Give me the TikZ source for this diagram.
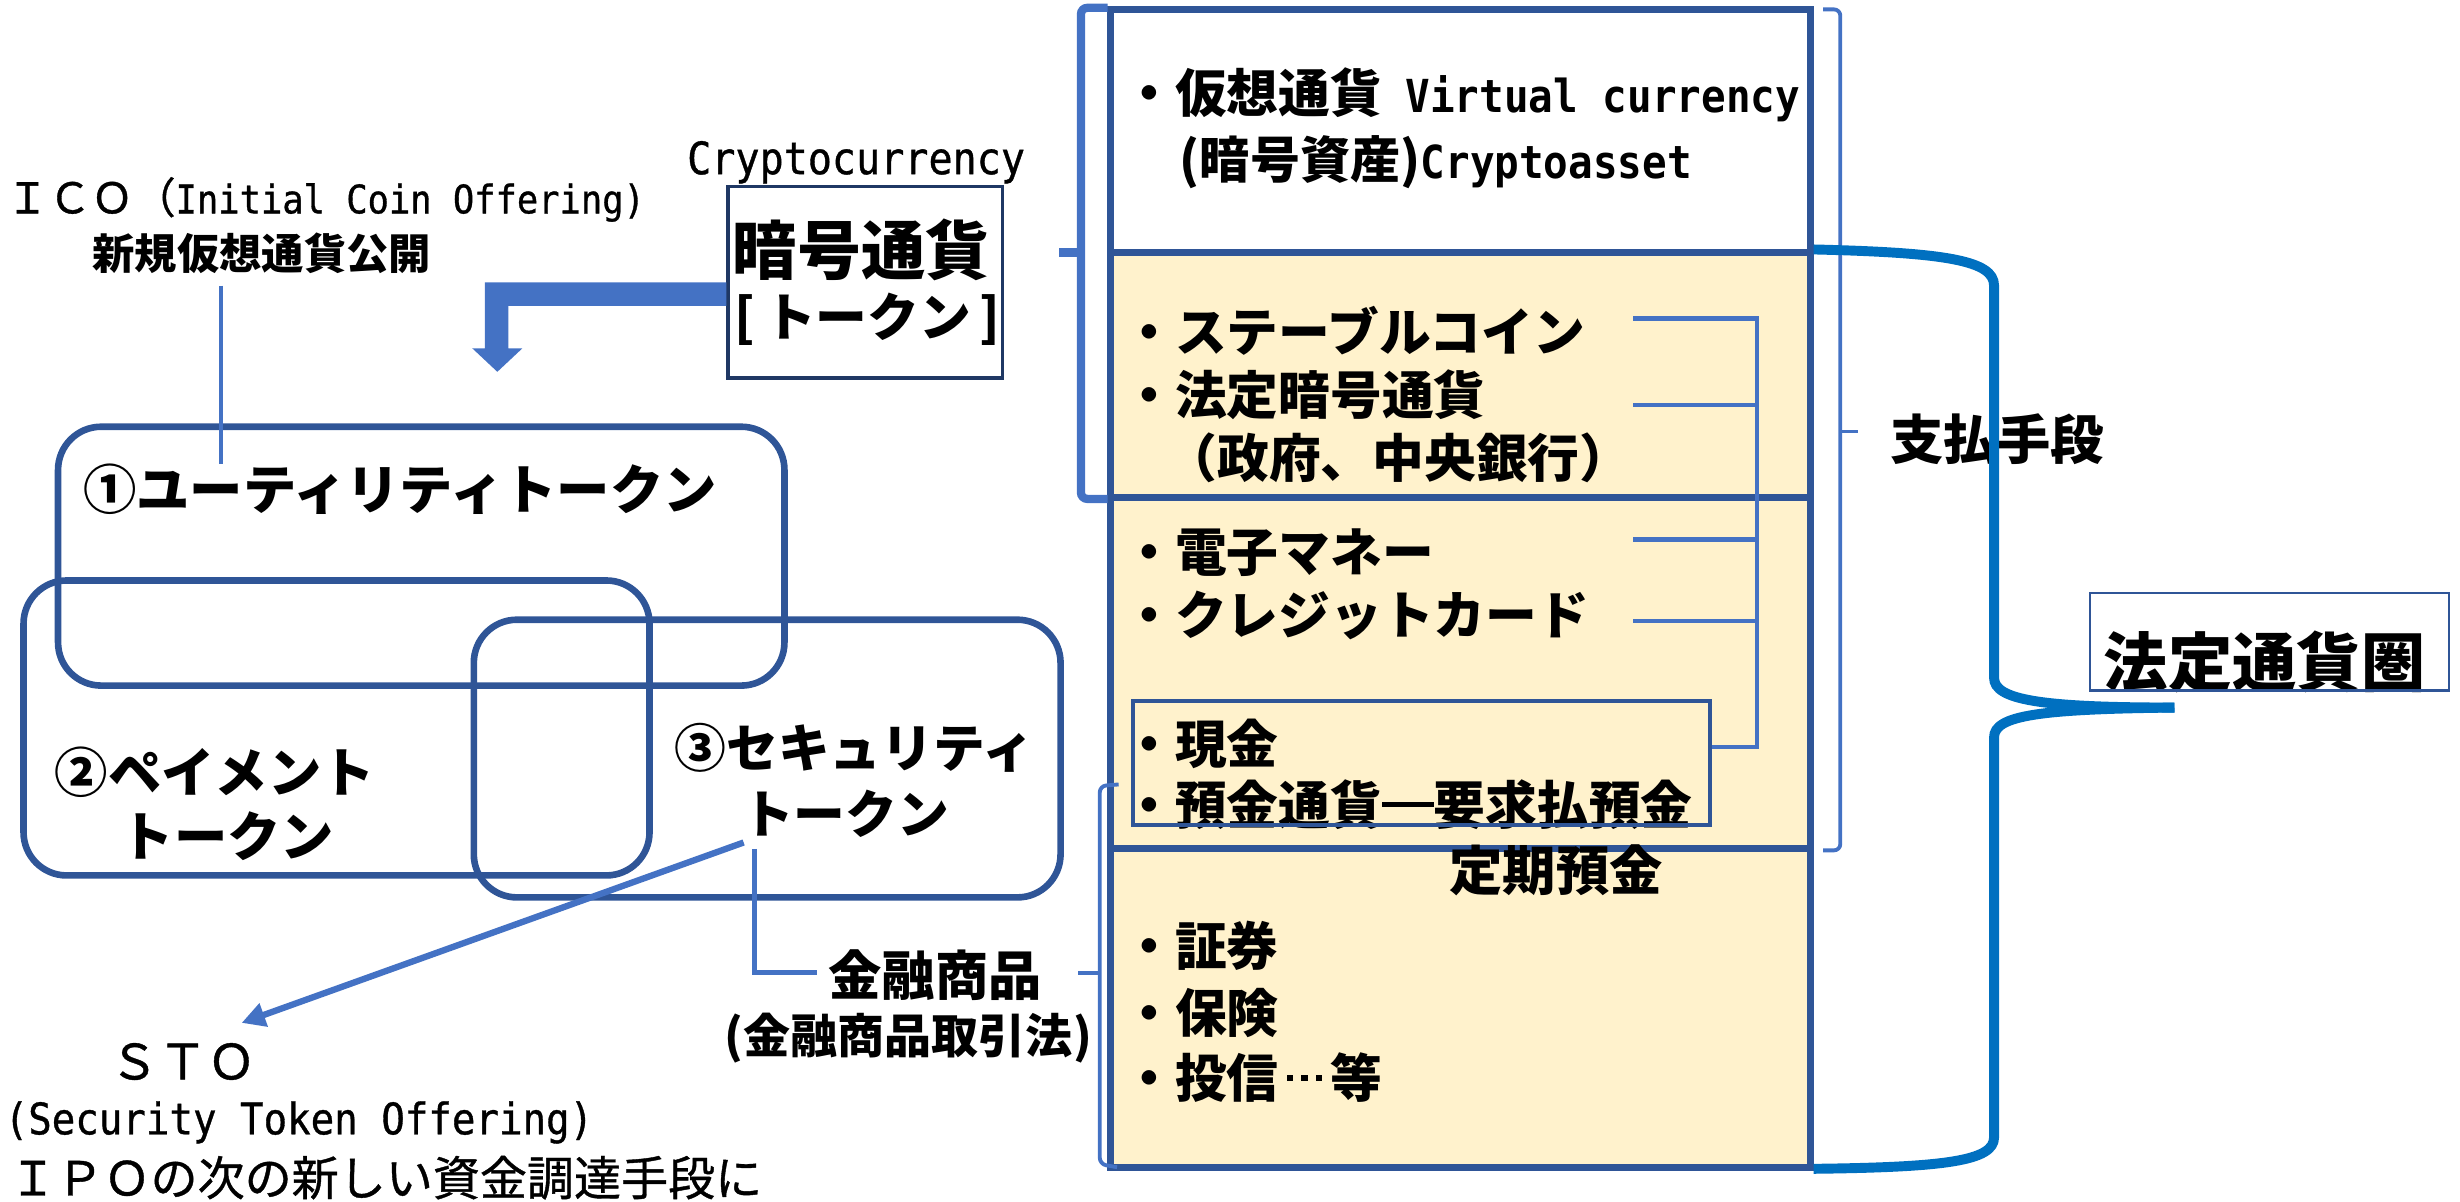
\documentclass[tikz,border=0pt]{standalone}
\usepackage{fontspec}
\setmainfont{Noto Sans CJK JP}
\newfontfamily\jpm{Noto Sans CJK JP}[FakeBold=0.8]
\newfontfamily\latf{DejaVu Sans Mono}[FakeStretch=0.9]
\newfontfamily\latm{DejaVu Sans Mono}[FakeStretch=0.9,FakeBold=0.8]
\usetikzlibrary{arrows.meta,fit}
\definecolor{navy}{HTML}{2F5597}
\definecolor{dnavy}{HTML}{1F3864}
\definecolor{lblue}{HTML}{4472C4}
\definecolor{bblue}{HTML}{0070C0}
\definecolor{cream}{HTML}{FFF2CC}
\newcommand\fsz[1]{\fontsize{\fpeval{#1*0.569}}{\fpeval{#1*0.7}}\selectfont}
\newcommand\jdash{\makebox[1em][c]{\rule[0.33em]{1em}{0.1em}}}
\newcommand\jdots{\makebox[1em][c]{\rule[0.32em]{0.12em}{0.12em}\hspace{0.16em}\rule[0.32em]{0.12em}{0.12em}\hspace{0.16em}\rule[0.32em]{0.12em}{0.12em}}}
\begin{document}
\begin{tikzpicture}[x=0.02cm,y=-0.02cm,
  tx/.style={inner sep=0,outer sep=0,anchor=base west},
  tc/.style={inner sep=0,outer sep=0,anchor=base},
  rbox/.style={draw=navy,line width=2.4pt,rounded corners=0.55cm,inner sep=0},
  colbox/.style={draw=navy,line width=2.4pt,inner sep=0},
  conn/.style={draw=lblue,line width=1.6pt},
  brk/.style={draw=lblue,rounded corners=0.08cm}]
\useasboundingbox (0,0) rectangle (1568,766);

% right column boxes
\node[colbox,fill=white,fit={(708,6)(1154,161)}] (va) {};
\node[colbox,fill=cream,fit={(708,161)(1154,317)}] (st) {};
\node[colbox,fill=cream,fit={(708,317)(1154,541)}] (em) {};
\node[colbox,fill=cream,fit={(708,541)(1154,744)}] (sc) {};

% left rounded boxes
\node[rbox,fit={(37,272)(500,437)}] (util) {};
\node[rbox,fit={(15,370)(414,558)}] (paybox) {};
\node[rbox,fit={(302,395)(676,572)}] (sec) {};

% crypto box
\node[draw=dnavy,line width=1.2pt,inner sep=0,fit={(464,119)(639,241)}] (kbox) {};

% block arrow
\fill[lblue] (kbox.west|-0,180) -- (309,180) -- (309,222) -- (301,222) -- (317,237) -- (333,222) -- (324,222) -- (324,195) -- (kbox.west|-0,195) -- cycle;

% texts left
\node[tx] (cryp) at (438,111) {\latm\fsz{28.4}Cryptocurrency};
\node[tx] (ico) at (4,136) {\jpm\fsz{27}ＩＣＯ（\latm\fsz{25.1}Initial Coin Offering)};
\node[tx] (icoj) at (59,172) {\bfseries\fsz{27}新規仮想通貨公開};
\node[tc] (kt1) at (549,175) {\bfseries\fsz{41}暗号通貨};
\node[tc] (kt2) at (553,214.5) {\bfseries\fsz{33}[\,トークン\,]};
\node[tx] (t1) at (53,325) {\bfseries\fsz{34}①ユーティリティトークン};
\node[tx] (t2a) at (35,505) {\bfseries\fsz{34}②ペイメント};
\node[tx] (t2b) at (77,546) {\bfseries\fsz{34}トークン};
\node[tx] (t3a) at (430,489.5) {\bfseries\fsz{33}③セキュリティ};
\node[tx] (t3b) at (473,531.5) {\bfseries\fsz{33}トークン};
\node[tx] (fin1) at (528,634.5) {\bfseries\fsz{34}金融商品};
\node[tx] (fin2) at (462,671.5) {\bfseries\fsz{30}(金融商品取引法)};
\node[tx] (sto1) at (70,688) {\jpm\fsz{31}ＳＴＯ};
\node[tx] (sto2) at (3,723) {\latm\fsz{27.7}(Security Token Offering)};
\node[tx] (sto3) at (6,762) {\jpm\fsz{30}ＩＰＯの次の新しい資金調達手段に};

% texts right
\node[tx] (r1) at (716,72) {\bfseries\fsz{33}・仮想通貨\hspace{0.3cm}{\latf\bfseries\fsz{29}Virtual currency}};
\node[tx] (r2) at (752,114) {\bfseries\fsz{32}(暗号資産){\latf\bfseries\fsz{29}Cryptoasset}};
\node[tx] (r3) at (716,224) {\bfseries\fsz{33}・ステーブルコイン};
\node[tx] (r4) at (716,264.5) {\bfseries\fsz{33}・法定暗号通貨};
\node[tx] (r5) at (743,304.5) {\bfseries\fsz{33}（政府、中央銀行）};
\node[tx] (r6) at (716,364.5) {\bfseries\fsz{33}・電子マネー};
\node[tx] (r7) at (716,404.5) {\bfseries\fsz{33}・クレジットカード};
\node[tx] (r8) at (716,486.5) {\bfseries\fsz{33}・現金};
\node[tx] (r9) at (716,525.5) {\bfseries\fsz{33}・預金通貨\jdash 要求払預金};
\node[tx] (r10) at (924,567.5) {\bfseries\fsz{34}定期預金};
\node[tx] (r11) at (716,615.5) {\bfseries\fsz{33}・証券};
\node[tx] (r12) at (716,658) {\bfseries\fsz{33}・保険};
\node[tx] (r13) at (716,699.5) {\bfseries\fsz{33}・投信\jdots 等};
\node[tx] (payl) at (1205,293) {\bfseries\fsz{34}支払手段};
\node[tx] (legal) at (1341,437.5) {\bfseries\fsz{41}法定通貨圏};

% inner cash box and legal box (over text)
\node[draw=navy,line width=1.6pt,inner sep=0,fit={(722,447)(1090,526)}] (cash) {};
\node[draw=navy,line width=0.9pt,inner sep=0,fit={(1332,378)(1561,440)}] (lbox) {};

% connectors
\coordinate (j1) at (1120,203);
\coordinate (j5) at (1120,476);
\draw[conn] (1041,203) -- (j1) -- (j5) -- (cash.east|-j5);
\draw[conn] (1041,258) -- (1120,258);
\draw[conn] (1041,344) -- (1120,344);
\draw[conn] (1041,396) -- (1120,396);

% ICO line
\draw[lblue,line width=1.6pt] (141,182) -- (141,296);
% STO arrow
\draw[lblue,line width=2.3pt,-{Triangle[length=0.3cm,width=0.3cm]}] (474,537) -- (154,652);
% financial elbow
\draw[lblue,line width=2pt] (481,541) -- (481,620) -- (521,620);

% brackets
\draw[brk,line width=3pt] (706,5) -- (689,5) -- (689,318) -- (706,318);
\draw[lblue,line width=3pt] (689,161) -- (675,161);
\draw[brk,line width=1.4pt] (1162,6) -- (1173,6) -- (1173,542) -- (1162,542);
\draw[lblue,line width=1.4pt] (1173,275) -- (1184,275);
\draw[brk,line width=1.4pt] (713,500) -- (701,501) -- (701,742) -- (712,744);
\draw[lblue,line width=1.4pt] (701,620) -- (687,620);

% big brace
\draw[bblue,line width=3.6pt] (1156,159) .. controls (1240,161) and (1271,166) .. (1271,182)
  -- (1271,432) .. controls (1271,446) and (1300,451) .. (1386,451);
\draw[bblue,line width=3.6pt] (1386,451) .. controls (1300,452) and (1271,456) .. (1271,470)
  -- (1271,725) .. controls (1271,740) and (1240,744) .. (1156,745);
\end{tikzpicture}
\end{document}
